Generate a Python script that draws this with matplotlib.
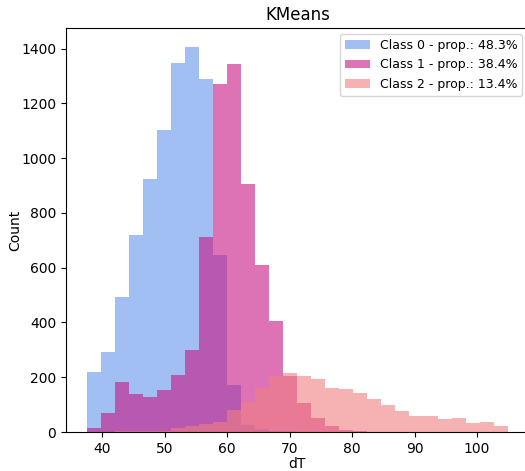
import numpy as np
import matplotlib.pyplot as plt

# Common bin edges for the three clusters (30 bins)
bin_start = 37.55
bin_width = 2.245
n_bins = 30
edges = bin_start + bin_width * np.arange(n_bins + 1)

# Counts per bin for each cluster
class0_counts = [220, 293, 492, 718, 922, 1103, 1346, 1405, 1287, 647,
                 172, 25, 10, 5, 2, 0, 0, 0, 0, 0,
                 0, 0, 0, 0, 0, 0, 0, 0, 0, 0]
class1_counts = [15, 68, 183, 139, 127, 154, 208, 300, 712, 1271,
                 1345, 906, 608, 407, 206, 107, 52, 23, 7, 3,
                 1, 1, 0, 0, 0, 0, 0, 0, 0, 0]
class2_counts = [0, 1, 2, 3, 5, 5, 14, 22, 28, 36,
                 80, 111, 162, 206, 214, 206, 193, 160, 157, 142,
                 119, 97, 78, 58, 58, 49, 52, 33, 37, 23]

proportions = [48.3, 38.4, 13.4]
colors = ['cornflowerblue', 'mediumvioletred', 'lightcoral']


def main():
    fig = plt.figure(figsize=(5.25, 4.71), dpi=100)
    ax = fig.add_axes([0.1257, 0.0828, 0.8813, 0.8578])

    for i, counts in enumerate([class0_counts, class1_counts, class2_counts]):
        ax.stairs(counts, edges, fill=True, color=colors[i], alpha=0.6,
                  label=f"Class {i} - prop.: {proportions[i]}%")

    ax.set_xlim(34.18, 108.27)
    ax.set_ylim(0, 1475)
    ax.set_title("KMeans")
    ax.set_xlabel("dT", labelpad=1)
    ax.set_ylabel("Count", labelpad=-1)
    ax.legend(loc='upper right', fontsize=9)

    fig.savefig("out.png", dpi=100)


if __name__ == "__main__":
    main()
